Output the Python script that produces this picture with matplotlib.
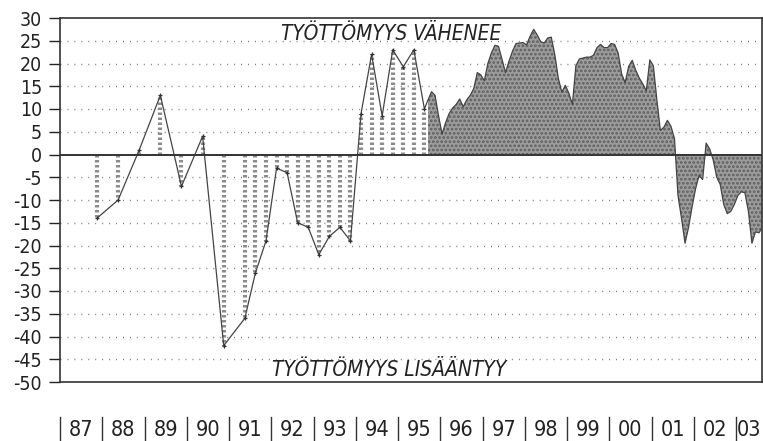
import matplotlib
matplotlib.use("Agg")
import matplotlib.pyplot as plt
from matplotlib import font_manager
import numpy as np

# ---------------- data ----------------
# half-year observations 1987-1990 (x in years since start of 1987)
semi_x = [0.875, 1.375, 1.875, 2.375, 2.875, 3.375, 3.875, 4.375]
semi_v = [-14, -10, 1, 13, -7, 4, -42, -36]

# quarterly observations 1991-1995
quart_x = [4.625, 4.875, 5.125, 5.375, 5.625, 5.875, 6.125, 6.375, 6.625,
           6.875, 7.125, 7.375, 7.625, 7.875, 8.125, 8.375, 8.625]
quart_v = [-26, -19, -3, -4, -15, -16, -22, -18, -16,
           -19, 9, 22, 8.5, 23, 19.3, 23, 10]

# monthly observations from autumn 1995
month_start = 8.71
month_v = [12, 13.8, 13, 8.5, 4.5, 7, 9, 10.2, 11, 12.2, 10.5, 12,
           13, 14.5, 18, 17.5, 16.2, 20, 22.3, 24, 23.8, 21, 18, 20.5,
           22.7, 24.4, 24.5, 24.6, 24.1, 26, 27.5, 26.3, 24.8, 24.5, 25.6, 25.8,
           22, 16.8, 13.7, 15.2, 13.5, 11, 19.5, 21, 21.2, 21.4, 21.4, 21.8,
           23.5, 24.2, 23.5, 23.5, 24.4, 24.2, 22.3, 17.7, 15.8, 19.4, 20.7, 18.5,
           16.8, 15.5, 14, 20.8, 19.5, 12, 5.3, 6, 7.5, 6.2, 3.5, -9,
           -14, -19.5, -16, -11.5, -7.5, -4.6, -5.5, 2.5, 1.2, -1.2, -5, -6.6,
           -11, -13, -12.5, -11, -9, -8.2, -8.4, -12.5, -19.5, -17, -17.2, -16]

year_labels = ["87", "88", "89", "90", "91", "92", "93", "94", "95",
               "96", "97", "98", "99", "00", "01", "02", "03"]
y_ticks = list(range(-50, 31, 5))
text_up = "TYÖTTÖMYYS VÄHENEE"
text_down = "TYÖTTÖMYYS LISÄÄNTYY"

# ---------------- fonts ----------------
names = {f.name for f in font_manager.fontManager.ttflist}
if "Liberation Sans Narrow" in names:
    FAM = "Liberation Sans Narrow"
    STRETCH = "normal"
else:
    FAM = "DejaVu Sans"
    STRETCH = "condensed"
plt.rcParams["font.family"] = [FAM, "DejaVu Sans"]

# ---------------- figure ----------------
fig = plt.figure(figsize=(7.63, 4.41), dpi=100)
W, H = 763, 441
ax = fig.add_axes([60 / W, 1 - 382 / H, (762 - 60) / W, (382 - 18) / H])
ax.set_xlim(0, 16.615)
ax.set_ylim(-50, 30)

# grid
for t in y_ticks:
    if t in (-50, 0, 30):
        continue
    ax.axhline(t, color="#777777", lw=1.0, ls=(0, (0.7, 4.3)), zorder=1)

# stippled columns for half-year / quarterly data
bx = semi_x + quart_x
bv = semi_v + quart_v
ax.vlines(bx, 0, bv, colors="#8c8c8c", lw=3.0, linestyles=(0, (0.6, 0.6)), zorder=2)

# monthly area
mx = month_start + np.arange(len(month_v)) / 12.0
mv = np.array(month_v, dtype=float)
plt.rcParams["hatch.linewidth"] = 1.3
ax.fill_between(mx, 0, mv, facecolor="#9c9c9c", edgecolor="#5e5e5e",
                hatch="....", linewidth=0, zorder=2)

# connecting line
allx = list(bx) + list(mx)
allv = list(bv) + list(mv)
ax.plot(allx, allv, color="#444444", lw=0.9, zorder=3)
ax.plot(bx, bv, ls="none", marker="+", ms=3.5, mew=0.9, color="#333333", zorder=4)

# zero line
ax.axhline(0, color="#333333", lw=1.4, zorder=5)

# axes styling
for s in ax.spines.values():
    s.set_color("#333333")
    s.set_linewidth(1.2)
ax.set_yticks(y_ticks)
ax.set_yticklabels([str(t) for t in y_ticks], fontsize=14, fontstretch=STRETCH)
ax.tick_params(axis="y", direction="out", length=8, width=1.0, pad=5, colors="#222222")
ax.set_xticks([])

# annotations
ax.text(7.85, 25.2, text_up, fontsize=15, style="italic", fontstretch=STRETCH,
        ha="center", va="baseline", color="#222222", zorder=6)
ax.text(7.8, -48.6, text_down, fontsize=15, style="italic", fontstretch=STRETCH,
        ha="center", va="baseline", color="#222222", zorder=6)

# year labels with separators below the plot
tr = ax.get_xaxis_transform()
for i, lab in enumerate(year_labels):
    ax.plot([i, i], [(382 - 417) / 364, (382 - 441) / 364], transform=tr,
            color="#333333", lw=1.0, clip_on=False)
    xc = i + 0.5 if i < len(year_labels) - 1 else i + 0.3
    ax.text(xc, (382 - 430) / 364, lab, transform=tr, ha="center", va="center",
            fontsize=15.5, fontstretch=STRETCH, color="#222222", clip_on=False)

fig.savefig("out.png", dpi=100)
